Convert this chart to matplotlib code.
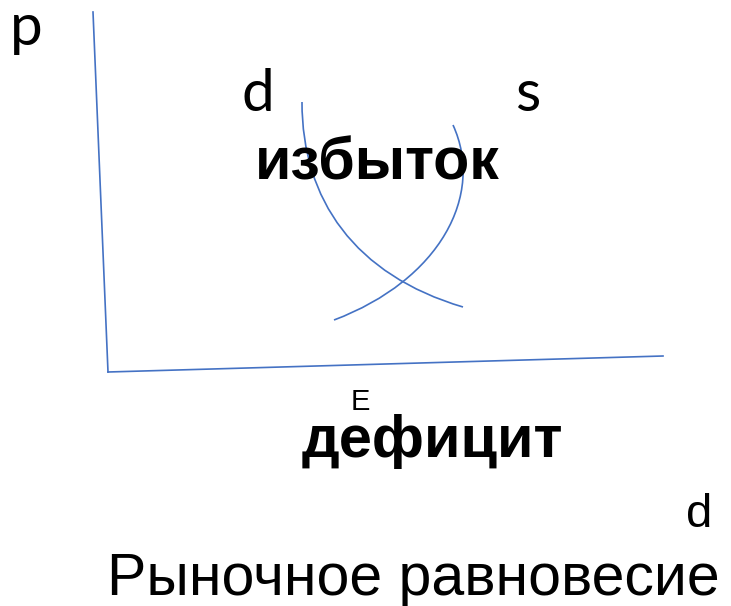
import matplotlib.pyplot as plt
from matplotlib.path import Path
from matplotlib.patches import PathPatch

# canvas in pixel units, y pointing down
W, H = 731, 606

# axes lines (corner points)
y_axis_x = [93, 108]
y_axis_y = [12, 372]
x_axis_x = [108, 663]
x_axis_y = [372, 356]

# curves as cubic Bezier control points
demand_pts = [(302, 102), (302, 200), (355, 275), (463, 307)]
supply_pts = [(334, 320), (440, 280), (485, 195), (453, 125)]

# labels: text, x, baseline y, size, weight, family
labels = [
    ("p", 10, 45, 42, "normal", "Lato"),
    ("d", 241, 111, 42, "normal", "Lato"),
    ("s", 515, 111, 42, "normal", "Lato"),
    ("избыток", 255, 180, 42.5, "bold", "Liberation Sans"),
    ("E", 351, 410, 21, "normal", "Liberation Sans"),
    ("дефицит", 302, 457, 42.8, "bold", "Liberation Sans"),
    ("d", 686, 527, 34, "normal", "Liberation Sans"),
    ("Рыночное равновесие", 107, 595, 42.5, "normal", "Liberation Sans"),
]

BLUE = "#4472C4"

fig = plt.figure(figsize=(W / 100, H / 100), dpi=100)
ax = fig.add_axes([0, 0, 1, 1])
ax.set_xlim(0, W)
ax.set_ylim(H, 0)
ax.axis("off")

ax.plot(y_axis_x, y_axis_y, color=BLUE, lw=1.2)
ax.plot(x_axis_x, x_axis_y, color=BLUE, lw=1.2)

codes = [Path.MOVETO, Path.CURVE4, Path.CURVE4, Path.CURVE4]
for pts in (demand_pts, supply_pts):
    ax.add_patch(PathPatch(Path(pts, codes), fill=False, edgecolor=BLUE, lw=1.2))

for txt, x, y, size, weight, fam in labels:
    ax.text(x, y, txt, fontsize=size, fontweight=weight, family=fam,
            ha="left", va="baseline")

fig.savefig("out.png", dpi=100)
